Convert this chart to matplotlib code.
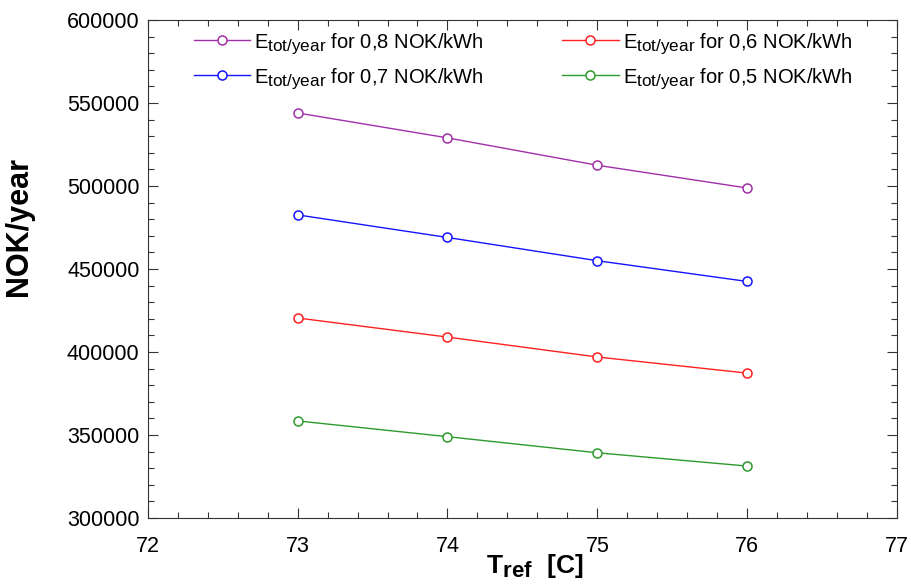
import matplotlib.pyplot as plt
from matplotlib.ticker import MultipleLocator
import matplotlib._mathtext as mt

plt.rcParams['font.family'] = ['Liberation Sans', 'DejaVu Sans']
plt.rcParams['mathtext.fontset'] = 'custom'
plt.rcParams['mathtext.rm'] = 'Liberation Sans'
plt.rcParams['mathtext.it'] = 'Liberation Sans'
plt.rcParams['mathtext.bf'] = 'Liberation Sans:bold'
# subscripts in the reference are only slightly smaller than the main text
mt.SHRINK_FACTOR = 0.85

# data
t_ref = [73, 74, 75, 76]
cost_08 = [544000, 529000, 512500, 498800]
cost_07 = [482600, 469000, 455000, 442500]
cost_06 = [420500, 409000, 397000, 387300]
cost_05 = [358500, 349000, 339300, 331300]
prices = ["0,8", "0,7", "0,6", "0,5"]
colors = ["#A030A8", "#1414FF", "#FF2020", "#2E9A2E"]

fig = plt.figure(figsize=(9.12, 5.88), dpi=100)
ax = fig.add_axes([0.162, 0.119, 0.8216, 0.847])

for vals, p, c in zip([cost_08, cost_07, cost_06, cost_05], prices, colors):
    ax.plot(t_ref, vals, color=c, lw=1.0, marker="o", ms=6.5,
            mfc="white", mec=c, mew=1.1,
            label=r"E$_{\mathrm{tot/year}}$ for " + p + " NOK/kWh")

ax.set_xlim(72, 77)
ax.set_ylim(300000, 600000)
ax.xaxis.set_major_locator(MultipleLocator(1))
ax.xaxis.set_minor_locator(MultipleLocator(0.2))
ax.yaxis.set_major_locator(MultipleLocator(50000))
ax.yaxis.set_minor_locator(MultipleLocator(10000))
ax.tick_params(which="both", direction="in", top=True, right=True,
               labelsize=15.5, width=0.8, color="#333333")
ax.tick_params(which="major", length=7)
ax.tick_params(which="minor", length=4)
ax.tick_params(axis="x", pad=13)
ax.tick_params(axis="y", pad=6)
for s in ax.spines.values():
    s.set_linewidth(0.8)
    s.set_color("#333333")

ax.set_ylabel("NOK/year", fontsize=22, fontweight="bold")
ax.yaxis.set_label_coords(-0.152, 0.585)
ax.set_xlabel(r"T$_{\mathbf{ref}}$  [C]", fontsize=19, fontweight="bold")
ax.xaxis.set_label_coords(0.516, -0.068)

ax.legend(ncol=2, frameon=False, fontsize=14.5, loc="upper left",
          bbox_to_anchor=(0.037, 1.015), handlelength=2.8, handletextpad=0.2,
          columnspacing=3.9, labelspacing=0.5)

fig.savefig("out.png", dpi=100)
